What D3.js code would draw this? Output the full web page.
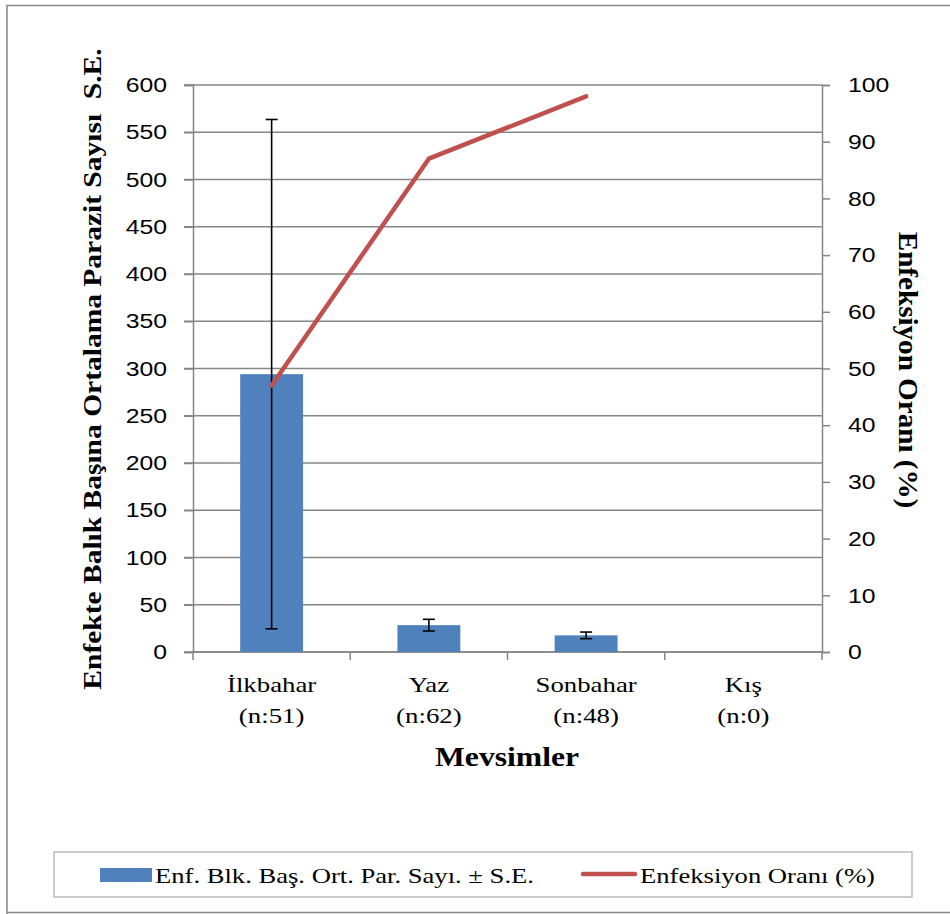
<!DOCTYPE html>
<html><head><meta charset="utf-8">
<script src="https://cdn.jsdelivr.net/npm/d3@7"></script>
<style>body{margin:0;background:#fff}svg{display:block}</style>
</head><body>
<svg id="c" width="950" height="914"></svg>
<script>
const categories = ["İlkbahar", "Yaz", "Sonbahar", "Kış"];
const sampleSizes = ["(n:51)", "(n:62)", "(n:48)", "(n:0)"];
const meanParasites = [294, 28.4, 17.6, 0];
const stdErrors = [269.5, 6.2, 3.5, 0];
const infectionRate = [47, 87, 98, null];
const leftTicks = [0, 50, 100, 150, 200, 250, 300, 350, 400, 450, 500, 550, 600];
const rightTicks = [0, 10, 20, 30, 40, 50, 60, 70, 80, 90, 100];

const svg = d3.select("#c");
const L = 193, R = 822, T = 85, B = 652;
const gridCol = "#868686";
const sans = "'Liberation Sans', Arial, sans-serif";
const serif = "'Liberation Serif', 'Times New Roman', serif";

// text helper: stretched along its direction
function txt(g, x, y, s, opts) {
  const o = Object.assign({size: 22, weight: "normal", anchor: "start", rot: 0, sx: 1, family: serif}, opts || {});
  return g.append("text")
    .attr("transform", `translate(${x},${y}) rotate(${o.rot}) scale(${o.sx},1)`)
    .attr("text-anchor", o.anchor).attr("font-family", o.family)
    .attr("font-size", o.size).attr("font-weight", o.weight).attr("fill", "#000")
    .style("white-space", "pre").text(s);
}

// outer frame
svg.append("path").attr("d", "M7,914 V5.5 H950").attr("fill", "none").attr("stroke", "#888").attr("stroke-width", 1.5);
svg.append("line").attr("x1", 7).attr("x2", 950).attr("y1", 912.5).attr("y2", 912.5).attr("stroke", "#888").attr("stroke-width", 1.5);

const x = d3.scaleBand().domain(categories).range([L, R]).paddingInner(0).paddingOuter(0);
const yL = d3.scaleLinear().domain([0, 600]).range([B, T]);
const yR = d3.scaleLinear().domain([0, 100]).range([B, T]);

// gridlines
svg.append("g").selectAll("line").data(leftTicks).join("line")
  .attr("x1", L - 9).attr("x2", R).attr("y1", d => yL(d)).attr("y2", d => yL(d))
  .attr("stroke", gridCol).attr("stroke-width", 1.5);

const tsx = 1.18;
// left axis
const gl = svg.append("g").attr("transform", `translate(${L},0)`)
  .call(d3.axisLeft(yL).tickValues(leftTicks).tickSize(9).tickPadding(17));
gl.select(".domain").attr("stroke", gridCol).attr("stroke-width", 1.5);
gl.selectAll(".tick line").attr("stroke", gridCol).attr("stroke-width", 1.5);
gl.selectAll("text").attr("font-family", sans).attr("font-size", 21).attr("fill", "#000")
  .attr("x", -26 / tsx).attr("transform", `scale(${tsx},1)`);

// right axis
const gr = svg.append("g").attr("transform", `translate(${R},0)`)
  .call(d3.axisRight(yR).tickValues(rightTicks).tickSize(8).tickPadding(18));
gr.select(".domain").attr("stroke", gridCol).attr("stroke-width", 1.5);
gr.selectAll(".tick line").attr("stroke", gridCol).attr("stroke-width", 1.5);
gr.selectAll("text").attr("font-family", sans).attr("font-size", 21).attr("fill", "#000")
  .attr("x", 26 / tsx).attr("transform", `scale(${tsx},1)`);

// bottom axis line and ticks at band boundaries
svg.append("line").attr("x1", L).attr("x2", R).attr("y1", B).attr("y2", B).attr("stroke", gridCol).attr("stroke-width", 1.5);
const bounds = categories.map(c => x(c)).concat([x(categories[categories.length - 1]) + x.bandwidth()]);
svg.append("g").selectAll("line").data(bounds).join("line")
  .attr("x1", d => d).attr("x2", d => d).attr("y1", B).attr("y2", B + 8)
  .attr("stroke", gridCol).attr("stroke-width", 1.5);

// bars
const bw = x.bandwidth() * 0.4;
svg.append("g").selectAll("rect").data(categories).join("rect")
  .attr("x", (d) => x(d) + x.bandwidth() / 2 - bw / 2)
  .attr("width", bw)
  .attr("y", (d, i) => yL(meanParasites[i]))
  .attr("height", (d, i) => B - yL(meanParasites[i]))
  .attr("fill", "#4F81BD");

// error bars
const eb = svg.append("g").attr("stroke", "#000").attr("stroke-width", 1.6);
categories.forEach((c, i) => {
  if (!stdErrors[i]) return;
  const cx = x(c) + x.bandwidth() / 2;
  const hi = yL(meanParasites[i] + stdErrors[i]), lo = yL(meanParasites[i] - stdErrors[i]);
  eb.append("line").attr("x1", cx).attr("x2", cx).attr("y1", hi).attr("y2", lo);
  eb.append("line").attr("x1", cx - 6).attr("x2", cx + 6).attr("y1", hi).attr("y2", hi);
  eb.append("line").attr("x1", cx - 6).attr("x2", cx + 6).attr("y1", lo).attr("y2", lo);
});

// line
const line = d3.line().defined(d => d[1] != null)
  .x(d => x(d[0]) + x.bandwidth() / 2).y(d => yR(d[1]));
svg.append("path").datum(categories.map((c, i) => [c, infectionRate[i]]))
  .attr("d", line).attr("fill", "none").attr("stroke", "#C0504D")
  .attr("stroke-width", 4.5).attr("stroke-linecap", "round").attr("stroke-linejoin", "round");

// category labels
categories.forEach((c, i) => {
  const cx = x(c) + x.bandwidth() / 2;
  txt(svg, cx, 692, c, {anchor: "middle", sx: 1.22});
  txt(svg, cx, 723, sampleSizes[i], {anchor: "middle", sx: 1.22});
});

// axis titles
txt(svg, 507, 766, "Mevsimler", {anchor: "middle", size: 28, weight: "bold", sx: 1.13});
txt(svg, 101, 369, "Enfekte Balık Başına Ortalama Parazit Sayısı  S.E.", {anchor: "middle", size: 25, weight: "bold", rot: -90, sx: 1.18});
txt(svg, 899, 370, "Enfeksiyon Oranı (%)", {anchor: "middle", size: 28, weight: "bold", rot: 90, sx: 1.04});

// legend
svg.append("rect").attr("x", 54).attr("y", 852).attr("width", 858).attr("height", 45)
  .attr("fill", "#fff").attr("stroke", "#aaa").attr("stroke-width", 1.2);
svg.append("rect").attr("x", 100).attr("y", 868).attr("width", 52).attr("height", 14).attr("fill", "#4F81BD");
txt(svg, 155, 883, "Enf. Blk. Baş. Ort. Par. Sayı. ± S.E.", {sx: 1.21});
svg.append("line").attr("x1", 583).attr("x2", 635).attr("y1", 874).attr("y2", 874)
  .attr("stroke", "#C0504D").attr("stroke-width", 4.5).attr("stroke-linecap", "round");
txt(svg, 640, 883, "Enfeksiyon Oranı (%)", {sx: 1.21});
</script>
</body></html>
